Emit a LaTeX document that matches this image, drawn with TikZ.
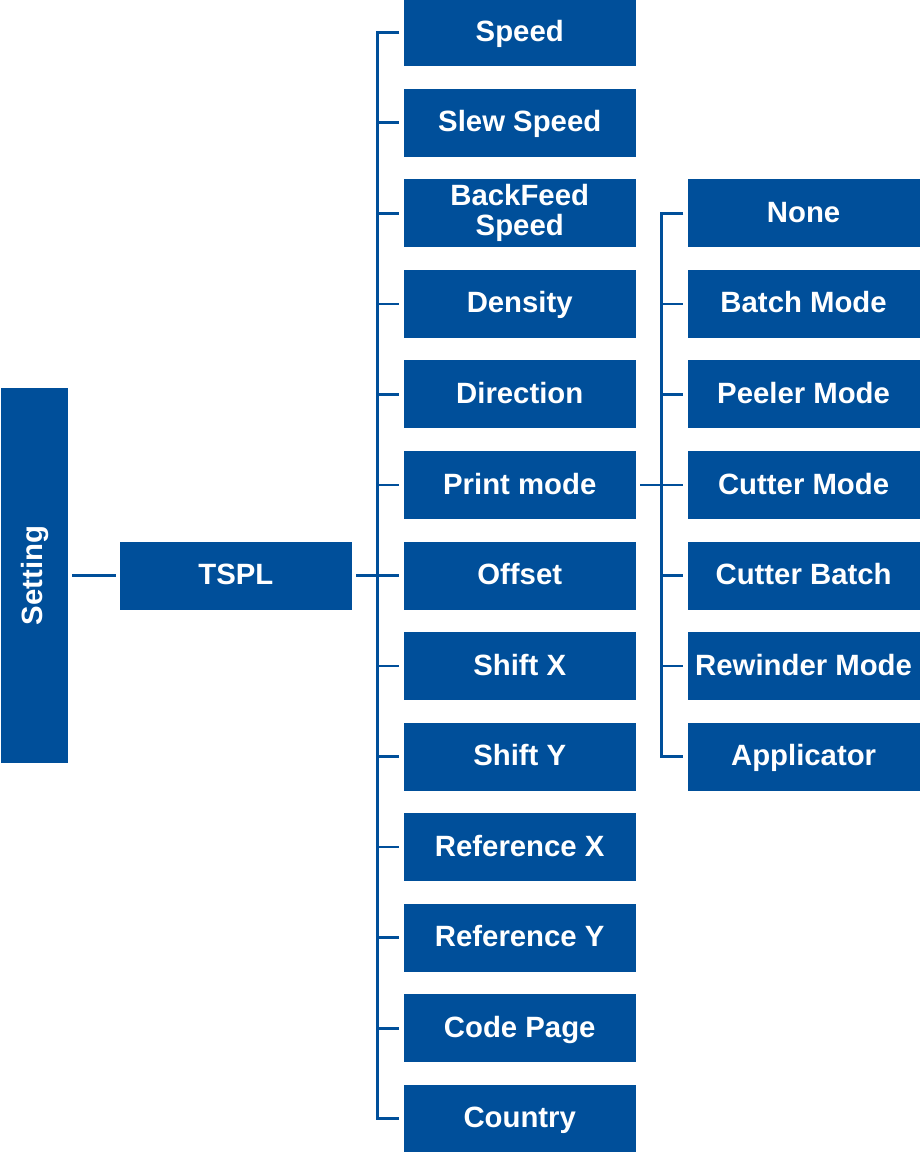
\documentclass[tikz,border=0pt]{standalone}
\usepackage{fontspec}
\setmainfont{Liberation Sans}
\usetikzlibrary{positioning,calc}
\definecolor{tsBlue}{HTML}{004F9A}

\begin{document}
\begin{tikzpicture}[
  x=0.75pt, y=-0.75pt,
  menu/.style={fill=tsBlue, text=white, font=\bfseries\fontsize{22pt}{22.5pt}\selectfont, minimum width=174pt, minimum height=51pt, inner sep=0pt, align=center, text height=15.8pt, text depth=2.2pt},
  link/.style={line width=2pt, draw=tsBlue}
]
  \useasboundingbox (0,0) rectangle (923,1152);

  \node[menu, minimum width=50.25pt, minimum height=281.25pt, text height={}, text depth={}] (setting) at (34.5,575.5) {\rotatebox{90}{Setting}};
  \node[menu, right=38.5pt of setting] (tspl) {TSPL};

  % TSPL submenu
  \node[menu, right=38.5pt of tspl] (offset) {Offset};
  \node[menu, above=16.5pt of offset] (printmode) {Print mode};
  \node[menu, above=16.5pt of printmode] (direction) {Direction};
  \node[menu, above=16.5pt of direction] (density) {Density};
  \node[menu, above=16.5pt of density, text height={}, text depth={}] (backfeed) {BackFeed\\Speed};
  \node[menu, above=16.5pt of backfeed] (slew) {Slew Speed};
  \node[menu, above=16.5pt of slew] (speed) {Speed};
  \node[menu, below=16.5pt of offset] (shiftx) {Shift X};
  \node[menu, below=16.5pt of shiftx] (shifty) {Shift Y};
  \node[menu, below=16.5pt of shifty] (refx) {Reference X};
  \node[menu, below=16.5pt of refx] (refy) {Reference Y};
  \node[menu, below=16.5pt of refy] (codepage) {Code Page};
  \node[menu, below=16.5pt of codepage] (country) {Country};

  % Print mode options
  \node[menu, right=38.5pt of printmode] (cutter) {Cutter Mode};
  \node[menu, above=16.5pt of cutter] (peeler) {Peeler Mode};
  \node[menu, above=16.5pt of peeler] (batch) {Batch Mode};
  \node[menu, above=16.5pt of batch] (none) {None};
  \node[menu, below=16.5pt of cutter] (cutbatch) {Cutter Batch};
  \node[menu, below=16.5pt of cutbatch] (rewinder) {Rewinder Mode};
  \node[menu, below=16.5pt of rewinder] (applicator) {Applicator};

  \coordinate (trunkA) at ($(tspl.east)!0.5!(offset.west)$);
  \coordinate (trunkB) at ($(printmode.east)!0.5!(cutter.west)$);

  \draw[link] ([xshift=3pt]setting.east) -- ([xshift=-3pt]tspl.west);
  \draw[link] ([xshift=3pt]tspl.east) -- (trunkA);
  \draw[link] ([xshift=-3pt]speed.west) -| (trunkA |- country) -- ([xshift=-3pt]country.west);
  \draw[link] (trunkA |- slew) -- ([xshift=-3pt]slew.west);
  \draw[link] (trunkA |- backfeed) -- ([xshift=-3pt]backfeed.west);
  \draw[link] (trunkA |- density) -- ([xshift=-3pt]density.west);
  \draw[link] (trunkA |- direction) -- ([xshift=-3pt]direction.west);
  \draw[link] (trunkA |- printmode) -- ([xshift=-3pt]printmode.west);
  \draw[link] (trunkA) -- ([xshift=-3pt]offset.west);
  \draw[link] (trunkA |- shiftx) -- ([xshift=-3pt]shiftx.west);
  \draw[link] (trunkA |- shifty) -- ([xshift=-3pt]shifty.west);
  \draw[link] (trunkA |- refx) -- ([xshift=-3pt]refx.west);
  \draw[link] (trunkA |- refy) -- ([xshift=-3pt]refy.west);
  \draw[link] (trunkA |- codepage) -- ([xshift=-3pt]codepage.west);

  \draw[link] ([xshift=3pt]printmode.east) -- (trunkB);
  \draw[link] ([xshift=-3pt]none.west) -| (trunkB |- applicator) -- ([xshift=-3pt]applicator.west);
  \draw[link] (trunkB |- batch) -- ([xshift=-3pt]batch.west);
  \draw[link] (trunkB |- peeler) -- ([xshift=-3pt]peeler.west);
  \draw[link] (trunkB) -- ([xshift=-3pt]cutter.west);
  \draw[link] (trunkB |- cutbatch) -- ([xshift=-3pt]cutbatch.west);
  \draw[link] (trunkB |- rewinder) -- ([xshift=-3pt]rewinder.west);
\end{tikzpicture}
\end{document}
